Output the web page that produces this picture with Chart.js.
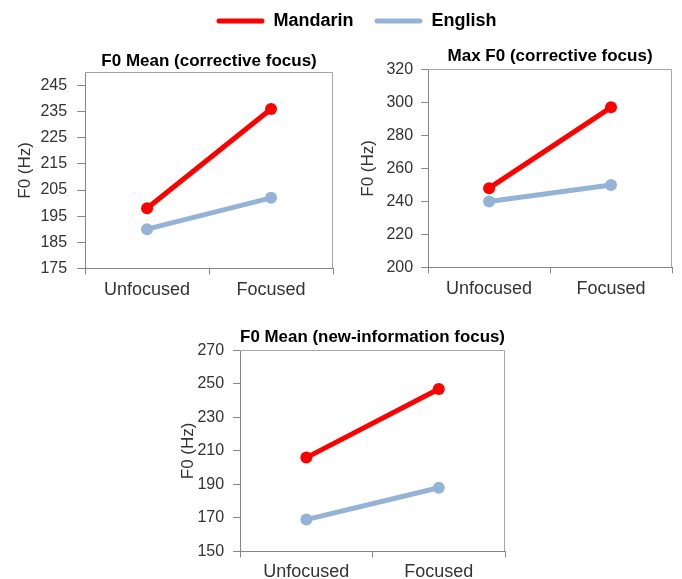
<!DOCTYPE html>
<html><head><meta charset="utf-8">
<script src="https://cdn.jsdelivr.net/npm/chart.js@4.4.1/dist/chart.umd.min.js"></script>
<style>
html,body{margin:0;padding:0;background:#fff;width:682px;height:579px;overflow:hidden;position:relative}
canvas{position:absolute}
</style></head><body>
<canvas id="leg" width="682" height="60" style="left:0;top:-11px"></canvas>
<canvas id="p1" width="345" height="270" style="left:0;top:40px"></canvas>
<canvas id="p2" width="337" height="270" style="left:345px;top:40px"></canvas>
<canvas id="p3" width="345" height="280" style="left:170px;top:310px"></canvas>
<script>
// ---- data ----
const categories = ['Unfocused', 'Focused'];
const seriesNames = ['Mandarin', 'English'];
const titles = ['F0 Mean (corrective focus)', 'Max F0 (corrective focus)', 'F0 Mean (new-information focus)'];
const yAxisTitle = 'F0 (Hz)';

const p1Mandarin = [198, 236];
const p1English  = [190, 202];
const p2Mandarin = [248, 297];
const p2English  = [240, 250];
const p3Mandarin = [206, 247];
const p3English  = [169, 188];

const p1Ticks = [175, 185, 195, 205, 215, 225, 235, 245];
const p2Ticks = [200, 220, 240, 260, 280, 300, 320];
const p3Ticks = [150, 170, 190, 210, 230, 250, 270];
const p1Range = [175, 250];
const p2Range = [200, 320];
const p3Range = [150, 270];

// ---- styles ----
const RED = '#FF0000', BLUE = '#95B3D7', AXIS = '#868686', FRAME = '#A6A6A6';
const FONT = "'Liberation Sans', Arial, sans-serif";

const frame = {
  id: 'frame',
  afterDraw(c) {
    const {ctx, chartArea: a} = c;
    ctx.save();
    ctx.strokeStyle = FRAME; ctx.lineWidth = 1;
    const t = Math.round(a.top) + 0.5, r = Math.round(a.right) - 0.5;
    ctx.beginPath();
    ctx.moveTo(Math.round(a.left), t); ctx.lineTo(r, t); ctx.lineTo(r, Math.round(a.bottom));
    ctx.stroke();
    ctx.restore();
  }
};

function ds(label, data, color) {
  return {
    label, data, borderColor: color, backgroundColor: color,
    borderWidth: 5, borderCapStyle: 'round',
    pointRadius: 6, pointHoverRadius: 6, pointBackgroundColor: color, pointBorderWidth: 0,
    tension: 0
  };
}

function panel(id, title, mand, eng, ticks, range, L) {
  new Chart(document.getElementById(id), {
    type: 'line',
    data: { labels: categories, datasets: [ds(seriesNames[0], mand, RED), ds(seriesNames[1], eng, BLUE)] },
    options: {
      responsive: false, animation: false,
      layout: { padding: { left: L.left, right: L.right, top: 0, bottom: L.bottom } },
      plugins: {
        legend: { display: false }, tooltip: { enabled: false },
        title: { display: true, fullSize: false, text: title, color: '#000',
                 font: { family: FONT, size: 17, weight: 'bold' },
                 padding: { top: L.tTop, bottom: L.tBot } }
      },
      scales: {
        x: {
          offset: true,
          grid: { offset: true, drawOnChartArea: false, drawTicks: true, tickLength: 6, color: AXIS },
          border: { color: AXIS, width: 1 },
          ticks: { color: '#333', font: { family: FONT, size: 18 }, padding: L.xPad, maxRotation: 0 }
        },
        y: {
          min: range[0], max: range[1],
          afterBuildTicks: s => { s.ticks = ticks.map(v => ({ value: v })); },
          grid: { drawOnChartArea: false, drawTicks: true, tickLength: L.tl, color: AXIS },
          border: { color: AXIS, width: 1 },
          ticks: { color: '#333', font: { family: FONT, size: 16 }, padding: L.yPad },
          title: { display: true, text: yAxisTitle, color: '#333', font: { family: FONT, size: 17 },
                   padding: { top: L.yt1, bottom: L.yt2 } }
        }
      }
    },
    plugins: [frame]
  });
}

panel('p1', titles[0], p1Mandarin, p1English, p1Ticks, p1Range,
  { left: 10, right: 12, bottom: 4, tTop: 11, tBot: 1, xPad: 5, tl: 8, yPad: 10, yt1: 5, yt2: -5 });
panel('p2', titles[1], p2Mandarin, p2English, p2Ticks, p2Range,
  { left: 8, right: 10, bottom: 5, tTop: 6, tBot: 3, xPad: 5, tl: 7, yPad: 8, yt1: 5, yt2: 0 });
panel('p3', titles[2], p3Mandarin, p3English, p3Ticks, p3Range,
  { left: 0, right: 10, bottom: 3, tTop: 17, tBot: 3, xPad: 4, tl: 7, yPad: 9, yt1: 8, yt2: -10 });

// ---- shared legend ----
new Chart(document.getElementById('leg'), {
  type: 'line',
  data: { labels: [], datasets: [ds(seriesNames[0], [], RED), ds(seriesNames[1], [], BLUE)] },
  options: {
    responsive: false, animation: false,
    layout: { padding: { left: 31, top: 2 } },
    scales: { x: { display: false }, y: { display: false } },
    plugins: {
      tooltip: { enabled: false },
      legend: {
        display: true, position: 'top', maxHeight: 60,
        labels: {
          boxWidth: 48, boxHeight: 5, padding: 21, color: '#000',
          font: { family: FONT, size: 18, weight: 'bold' },
          useBorderRadius: true, borderRadius: 2.5,
          generateLabels: c => Chart.defaults.plugins.legend.labels.generateLabels(c)
            .map(l => Object.assign(l, { lineWidth: 0, borderRadius: 2.5 }))
        }
      }
    }
  }
});
</script>
</body></html>
